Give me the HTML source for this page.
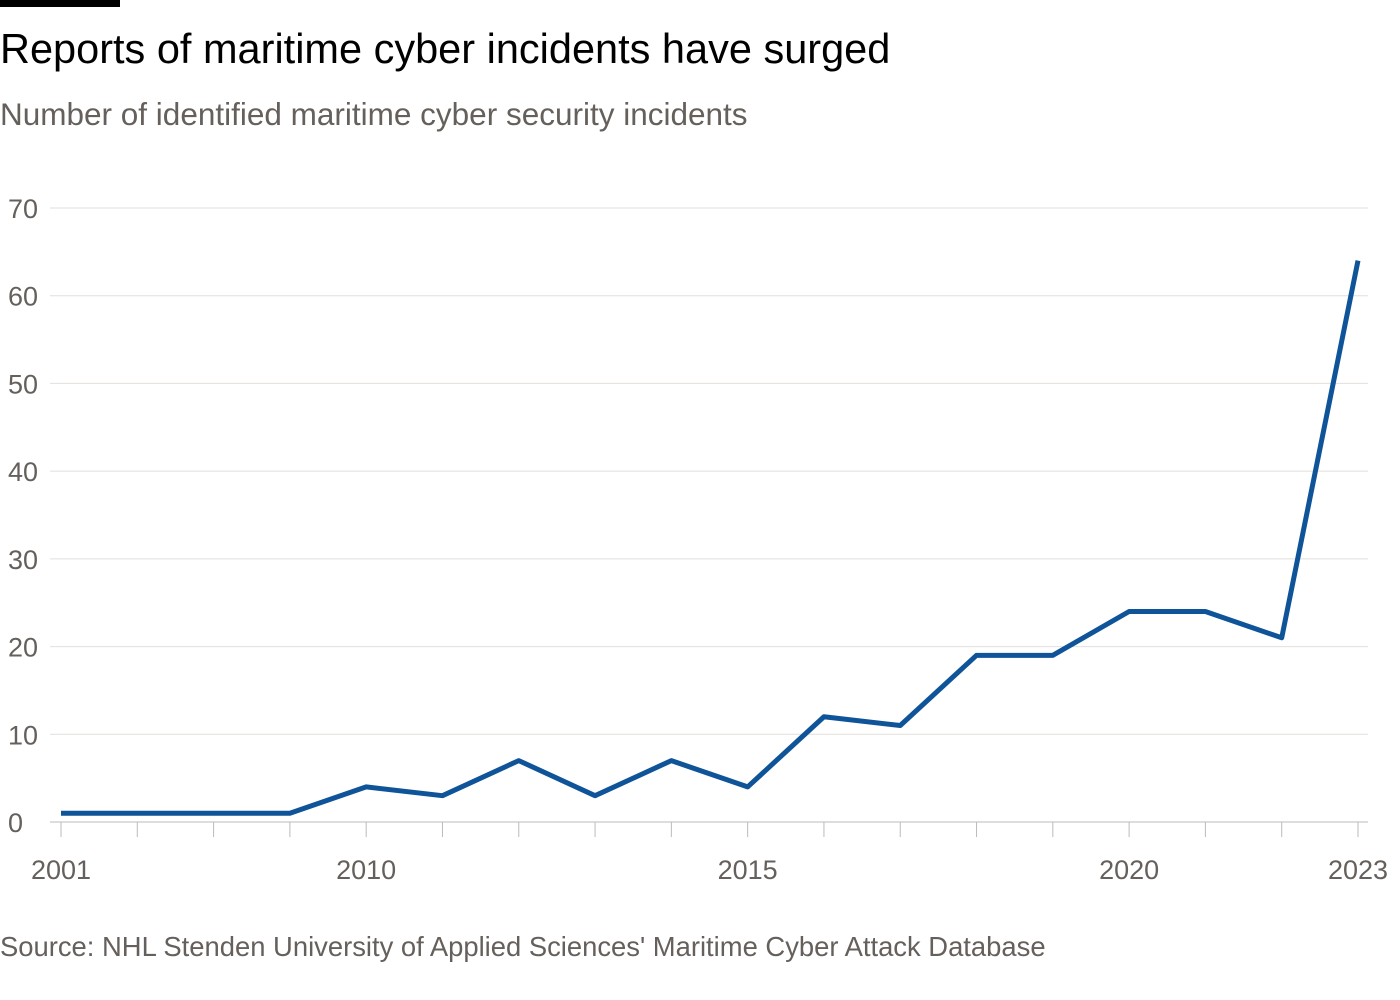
<!DOCTYPE html>
<html><head><meta charset="utf-8"><style>
body{margin:0;width:1400px;height:1000px;background:#fff;font-family:"Liberation Sans",sans-serif;overflow:hidden;position:relative}
</style></head><body>
<div style="position:absolute;left:0;top:0;width:120px;height:7px;background:#000"></div>
<div style="position:absolute;left:0;top:25px;font-size:41.5px;color:#000">Reports of maritime cyber incidents have surged</div>
<div style="position:absolute;left:0;top:96px;font-size:31.5px;color:#66605c">Number of identified maritime cyber security incidents</div>
<svg id="chart" width="1400" height="1000" style="position:absolute;left:0;top:0"></svg>
<div style="position:absolute;left:0;top:931px;font-size:27.4px;color:#66605c">Source: NHL Stenden University of Applied Sciences' Maritime Cyber Attack Database</div>
<script>
const categories=["2001","2007","2008","2009","2010","2011","2012","2013","2014","2015","2016","2017","2018","2019","2020","2021","2022","2023"];
const values=[1,1,1,1,4,3,7,3,7,4,12,11,19,19,24,24,21,64];
const yTicks=[0,10,20,30,40,50,60,70];
const xLabels=["2001","2010","2015","2020","2023"];
const svg=document.getElementById('chart');
const NS="http://www.w3.org/2000/svg";
const x0=61,x1=1358,y0=822,y70=208;
const xs=i=>x0+(x1-x0)*i/(categories.length-1);
const ys=v=>y0-(y0-y70)*v/70;
function mk(t,a){const e=document.createElementNS(NS,t);for(const k in a)e.setAttribute(k,a[k]);svg.appendChild(e);return e;}
yTicks.forEach(v=>{
  const g=mk('line',{x1:50,x2:1368,y1:ys(v),y2:ys(v),stroke:v===0?'#bbb':'#e2dfdc','stroke-width':1});
  
  
  const t=mk('text',{x:8,y:ys(v)+10,'font-size':27,fill:'#66605c','font-family':'Liberation Sans'});
  t.textContent=v;
  
  
});
categories.forEach((c,i)=>{
  const tk=mk('line',{x1:xs(i),x2:xs(i),y1:y0,y2:y0+15,stroke:'#bbb','stroke-width':1});
  
  
  if(xLabels.includes(c)){
    const t=mk('text',{x:xs(i),y:879,'font-size':27,fill:'#66605c','text-anchor':'middle','font-family':'Liberation Sans'});
    t.textContent=c;
    
    
  }
});
const p=mk('polyline',{points:values.map((v,i)=>xs(i)+','+ys(v)).join(' '),fill:'none',stroke:'#0f5499','stroke-width':5,'stroke-linejoin':'round'});


</script>
</body></html>
